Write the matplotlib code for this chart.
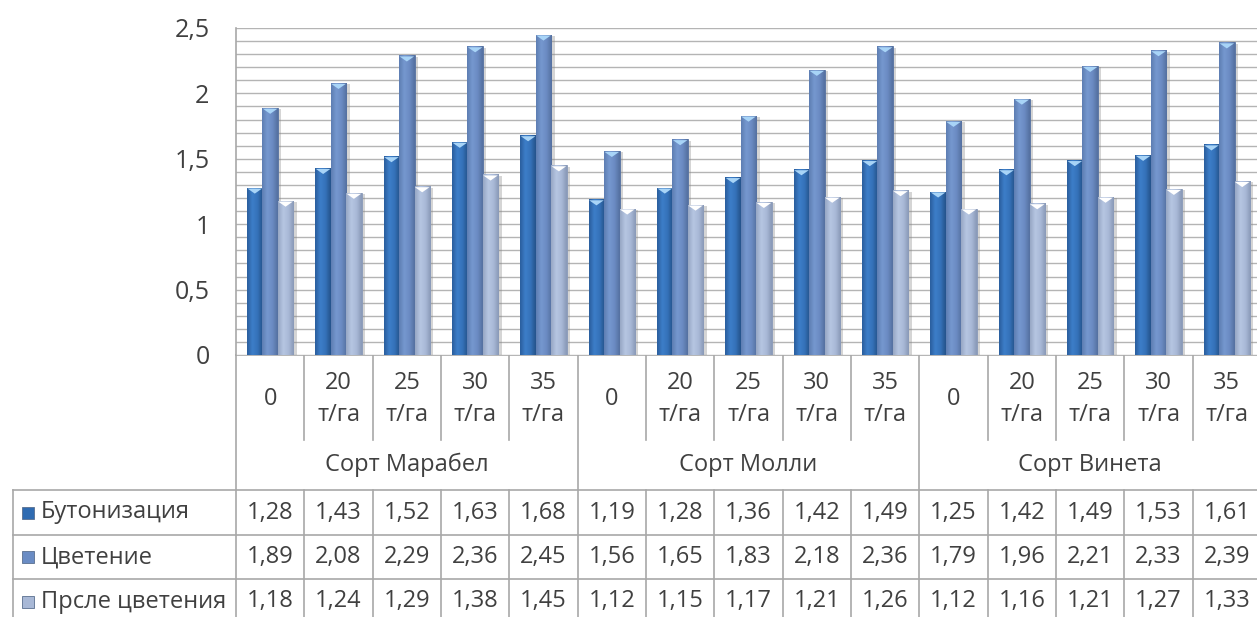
import numpy as np
import matplotlib
matplotlib.use("Agg")
import matplotlib.pyplot as plt
import matplotlib.patheffects as pe
from matplotlib import transforms
from matplotlib.colors import LinearSegmentedColormap
from matplotlib.ticker import MultipleLocator, FuncFormatter

plt.rcParams["font.family"] = ["Open Sans", "DejaVu Sans"]

# --- данные ---
varieties = ["Сорт Марабел", "Сорт Молли", "Сорт Винета"]
doses = ["0", "20\nт/га", "25\nт/га", "30\nт/га", "35\nт/га"]
series_names = ["Бутонизация", "Цветение", "Прсле цветения"]

budding = [1.28, 1.43, 1.52, 1.63, 1.68,
           1.19, 1.28, 1.36, 1.42, 1.49,
           1.25, 1.42, 1.49, 1.53, 1.61]
flowering = [1.89, 2.08, 2.29, 2.36, 2.45,
             1.56, 1.65, 1.83, 2.18, 2.36,
             1.79, 1.96, 2.21, 2.33, 2.39]
after_flowering = [1.18, 1.24, 1.29, 1.38, 1.45,
                   1.12, 1.15, 1.17, 1.21, 1.26,
                   1.12, 1.16, 1.21, 1.27, 1.33]

series = [budding, flowering, after_flowering]

# градиенты столбцов: край, свет, середина, тень
bar_colors = [
    ["#2a5d9c", "#3d7ec9", "#3572b9", "#24528a"],
    ["#5d7db2", "#7698cf", "#6b8bc3", "#54709f"],
    ["#96a6c4", "#b6c6e2", "#a9b9d7", "#8898b6"],
]
cap_colors = ["#a8d4f7", "#a8d4f7", "#ffffff"]
legend_colors = ["#2f6bb1", "#6a8cc4", "#a8b8d6"]

text_color = "#404040"
line_color = "#a8a8a8"

W, H = 1257, 617
fig = plt.figure(figsize=(W / 100, H / 100), dpi=100)

ax_left, ax_right = 236, 1261
ax_top, ax_bottom = 28, 355
ax = fig.add_axes([ax_left / W, 1 - ax_bottom / H,
                   (ax_right - ax_left) / W, (ax_bottom - ax_top) / H])

n = len(budding)
x = np.arange(n)
bw = 0.225
offsets = [-bw, 0, bw]

# плоский треугольник-блик у верхнего края столбца
cap_marker = [(-1, 0.35), (1, 0.35), (0, -0.35), (-1, 0.35)]
cap_tr = transforms.offset_copy(ax.transData, fig=fig, y=-3.5, units="dots")

for vals, off, cols, cap in zip(series, offsets, bar_colors, cap_colors):
    cmap = LinearSegmentedColormap.from_list("g", cols)
    grad = np.linspace(0, 1, 64).reshape(1, -1)
    bars = ax.bar(x + off, vals, width=bw, color=cols[2], edgecolor=cols[3],
                  linewidth=0.6, zorder=3,
                  path_effects=[pe.SimplePatchShadow(offset=(2.5, -1),
                                                     shadow_rgbFace="#888888",
                                                     alpha=0.35),
                                pe.Normal()])
    for b in bars:
        x0, w, h = b.get_x(), b.get_width(), b.get_height()
        im = ax.imshow(grad, cmap=cmap, aspect="auto", zorder=4,
                       extent=(x0, x0 + w, 0, h), interpolation="bicubic")
        im.set_clip_path(b)
    ax.scatter(x + off, vals, marker=cap_marker, s=110, color=cap,
               edgecolors="none", zorder=5, transform=cap_tr)

ax.set_xlim(-0.5, n - 0.5)
ax.set_ylim(0, 2.5)
ax.yaxis.set_major_locator(MultipleLocator(0.5))
ax.yaxis.set_minor_locator(MultipleLocator(0.1))
ax.yaxis.set_major_formatter(
    FuncFormatter(lambda v, p: f"{v:g}".replace(".", ",")))
ax.grid(True, which="both", axis="y", color="#b4b4b4", linewidth=1.0,
        zorder=0)
ax.set_axisbelow(True)
ax.set_xticks([])
ax.tick_params(axis="y", which="both", length=0, pad=19,
               labelsize=18, labelcolor=text_color)
for side in ["top", "right", "bottom"]:
    ax.spines[side].set_visible(False)
ax.spines["left"].set_color(line_color)
ax.spines["left"].set_linewidth(1.2)

# --- таблица данных под графиком (x по данным, y в пикселях) ---
tab = fig.add_axes([0, 0, 1, 1], zorder=-1)
tab.set_xlim(0, W)
tab.set_ylim(H, 0)
tab.axis("off")
tr = transforms.blended_transform_factory(ax.transData, tab.transData)

y_hdr_bot = 440
y_grp_bot = 490
row_lines = [490, 535, 579, 624]
fs = 17

line_kw = dict(color=line_color, linewidth=1.2, clip_on=False)

# подписи доз и сортов
for i in range(n):
    tab.text(i, 399, doses[i % len(doses)], transform=tr, ha="center",
             va="center", fontsize=fs, color=text_color, linespacing=1.4)
for g, name in enumerate(varieties):
    tab.text(g * 5 + 2, 465, name, transform=tr, ha="center", va="center",
             fontsize=fs, color=text_color)

# вертикальные линии
for i in range(n + 1):
    xb = i - 0.5
    if i % 5 == 0:
        tab.plot([xb, xb], [ax_bottom, H], transform=tr, **line_kw)
    else:
        tab.plot([xb, xb], [ax_bottom, y_hdr_bot], transform=tr, **line_kw)
        tab.plot([xb, xb], [y_grp_bot, H], transform=tr, **line_kw)

tab.plot([ax_left, W], [ax_bottom, ax_bottom], **line_kw)
for yl in row_lines:
    tab.plot([13, W], [yl, yl], **line_kw)
tab.plot([13, 13], [y_grp_bot, H], **line_kw)

# строки значений с легендой
for r, (vals, name, col) in enumerate(zip(series, series_names,
                                          legend_colors)):
    yc = (row_lines[r] + row_lines[r + 1]) / 2
    tab.plot(28, yc, marker="s", markersize=8, color=col,
             markeredgecolor="#5a6f8f", markeredgewidth=0.6, clip_on=False)
    tab.text(41, yc, name, ha="left", va="center", fontsize=fs,
             color=text_color)
    for i, v in enumerate(vals):
        tab.text(i, yc, f"{v:.2f}".replace(".", ","), transform=tr,
                 ha="center", va="center", fontsize=fs, color=text_color)

fig.savefig("out.png", dpi=100)
